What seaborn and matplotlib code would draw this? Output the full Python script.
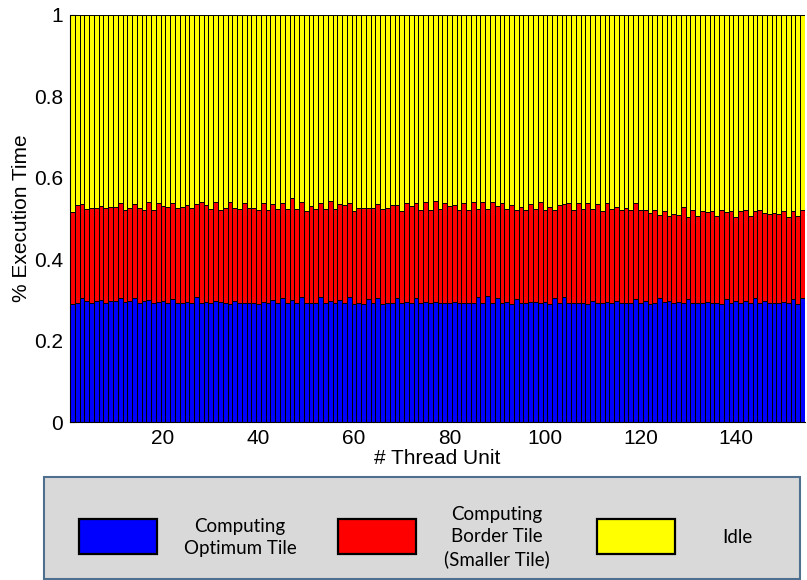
import matplotlib
matplotlib.use("Agg")
import matplotlib.pyplot as plt
from matplotlib.patches import Rectangle
import numpy as np
import pandas as pd
import seaborn as sns

# Fraction of execution time spent computing optimum tiles, per thread unit
optimum = [
    .289, .292, .304, .298, .293, .298, .300, .293, .298, .298, .304, .296, .297, .304, .293, .297, .300, .292, .296, .298,
    .293, .301, .292, .293, .296, .292, .306, .293, .296, .293, .298, .296, .292, .290, .298, .293, .292,
    .292, .293, .290, .296, .292, .300, .292, .304, .292, .300, .293, .306, .292, .292, .292, .308, .292, .298, .293, .300,
    .293, .306, .290, .293, .290, .301, .292, .304, .290, .293, .292, .304, .292, .296, .293, .304, .293, .296,
    .293, .296, .293, .293, .292, .296, .293, .293, .292, .293, .308, .292, .310, .292, .304, .292, .296, .290, .301, .293,
    .293, .296, .296, .292, .296, .290, .304, .293, .306, .293, .293, .292, .293, .290, .298, .292,
    .293, .296, .293, .298, .292, .293, .293, .301, .292, .298, .290, .293, .304, .296, .298, .293, .296, .293, .301, .292,
    .293, .292, .296, .293, .292, .290, .301, .293, .298, .293, .298, .293, .304, .293, .298, .293, .293, .293, .296, .292,
    .301, .290, .304,
]

# Fraction spent computing (optimum + border tiles), per thread unit
busy = [
    .515, .533, .536, .523, .527, .525, .531, .525, .529, .529, .537, .521, .527, .536, .525, .521, .541, .521, .537, .531,
    .529, .537, .525, .529, .533, .525, .536, .541, .533, .523, .540, .521, .527, .541, .525, .523, .539,
    .527, .527, .521, .539, .521, .536, .523, .537, .523, .550, .523, .541, .519, .531, .523, .539, .523, .544, .523, .535,
    .532, .539, .519, .525, .525, .527, .527, .536, .523, .527, .532, .532, .519, .537, .531, .537, .521, .541,
    .521, .543, .523, .537, .531, .533, .521, .537, .521, .540, .523, .540, .523, .541, .531, .537, .523, .533, .521, .529,
    .521, .536, .523, .541, .521, .529, .521, .533, .536, .537, .521, .539, .523, .539, .523, .536,
    .519, .539, .523, .529, .521, .527, .521, .539, .521, .521,
    .514, .520, .508, .518, .505, .510, .508, .528, .503, .520, .505, .519, .516, .518, .505, .520, .516, .518, .504, .518,
    .520, .505, .518, .522, .514, .511, .514, .511, .518, .504, .518, .505, .522,
]

units = list(range(1, len(optimum) + 1))
total = [1.0] * len(units)  # each bar covers the whole run time

x_ticks = [20, 40, 60, 80, 100, 120, 140]
y_ticks = [0, 0.2, 0.4, 0.6, 0.8, 1]
y_tick_labels = ["0", "0.2", "0.4", "0.6", "0.8", "1"]

legend_labels = ["Computing\nOptimum Tile", "Computing\nBorder Tile\n(Smaller Tile)", "Idle"]
colors = ["#0000FF", "#FF0000", "#FFFF00"]

sns.set_theme(style="white")
plt.rcParams["font.family"] = ["Liberation Sans", "DejaVu Sans"]

df = pd.DataFrame({"unit": units, "optimum": optimum, "busy": busy, "total": total})

fig = plt.figure(figsize=(8.07, 5.80), dpi=100)
ax = fig.add_axes([70 / 807, 1 - 422 / 580, 735 / 807, 407 / 580])

# Stacked bars: idle on top (full bar), then border+optimum, then optimum
for col, color in [("total", colors[2]), ("busy", colors[1]), ("optimum", colors[0])]:
    sns.barplot(data=df, x="unit", y=col, native_scale=True, width=1.0, color=color,
                saturation=1, edgecolor="black", linewidth=0.7, errorbar=None, ax=ax)

ax.set_xlim(0.5, len(units) + 0.5)
ax.set_ylim(0, 1)
ax.set_xticks(x_ticks)
ax.set_xticklabels([str(t) for t in x_ticks])
ax.set_yticks(y_ticks)
ax.set_yticklabels(y_tick_labels)
ax.tick_params(axis="both", direction="in", length=4, width=0.8, labelsize=15, pad=5,
               color="black", labelcolor="black", bottom=True, left=True)
ax.set_xlabel("# Thread Unit", fontsize=15, labelpad=1, color="black")
ax.set_ylabel("% Execution Time", fontsize=15, labelpad=2, color="black")
for side in ["top", "right"]:
    ax.spines[side].set_visible(False)
for side in ["left", "bottom"]:
    ax.spines[side].set_color("black")
    ax.spines[side].set_linewidth(0.8)

# Legend panel below the plot, laid out in pixel coordinates
lg = fig.add_axes([0, 0, 1, 1], zorder=-1)
lg.set_xlim(0, 807)
lg.set_ylim(580, 0)
lg.axis("off")
lg.add_patch(Rectangle((44, 477), 756, 102, facecolor="#D9D9D9", edgecolor="#4F6F8F", linewidth=1.5))
swatch_x = [79, 338, 597]
text_x = [240, 497, 737]
for sx, tx, color, label in zip(swatch_x, text_x, colors, legend_labels):
    lg.add_patch(Rectangle((sx, 519), 78, 35, facecolor=color, edgecolor="black", linewidth=1.6))
    lg.text(tx, 537.5, label, ha="center", va="center", fontsize=13.5, family=["Lato", "DejaVu Sans"],
            color="black", linespacing=1.35)

fig.savefig("out.png", dpi=100)
